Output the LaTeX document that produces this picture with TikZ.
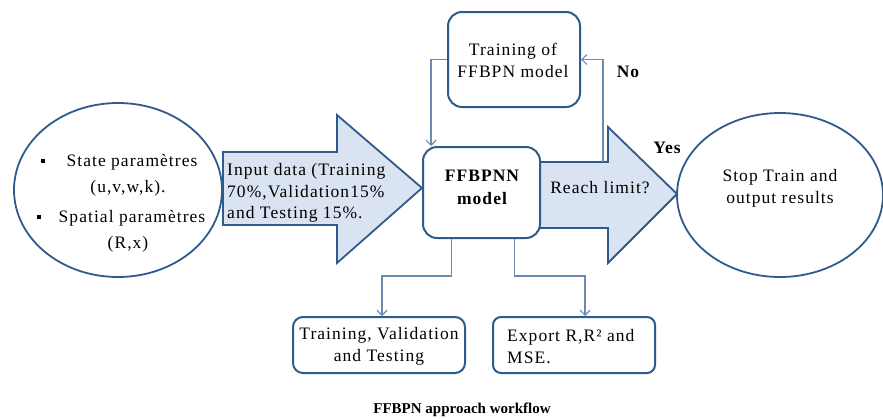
\documentclass[tikz,border=0pt]{standalone}
\usepackage{fontspec}
\setmainfont{Liberation Serif}[LetterSpace=6]
\usetikzlibrary{shapes.geometric,arrows.meta}
\definecolor{edge}{HTML}{2E5A8C}
\definecolor{pale}{HTML}{DAE3F1}
\definecolor{linkc}{HTML}{6A8AB4}

\begin{document}
\begin{tikzpicture}[x=1pt,y=-1pt,
  txt/.style={font=\fontsize{17.5}{21.5}\selectfont, inner sep=0pt, align=center},
  boldtxt/.style={font=\fontsize{17.5}{23}\selectfont\bfseries, inner sep=0pt, align=center},
  blockarrow/.style={draw=edge, fill=pale, line width=1.8pt, line join=miter},
  box/.style={draw=edge, line width=2pt, rounded corners=14pt, fill=white},
  oval/.style={ellipse, draw=edge, line width=1.8pt, inner sep=0pt},
  flow/.style={draw=linkc, line width=1.2pt, -{Straight Barb[length=5pt,width=10pt]}}]
\useasboundingbox (0,0) rectangle (883,418);

% input parameters
\node[oval, minimum width=208pt, minimum height=174pt] (src) at (118,190) {};
\node[fill=black, inner sep=0pt, minimum size=4.5pt] (b1) at (43,161) {};
\node[fill=black, inner sep=0pt, minimum size=4.5pt] (b2) at (39,217) {};
\node[txt] (s1) at (132,162) {State paramètres};
\node[txt] (s2) at (128,188) {(u,v,w,k).};
\node[txt] (s3) at (132,218) {Spatial paramètres};
\node[txt] (s4) at (128,244) {(R,x)};

% input data arrow
\draw[blockarrow] (223,152) -- (337,152) -- (337,115) -- (422,188)
  -- (337,263) -- (337,225) -- (223,225) -- cycle;
\node[txt, align=left, anchor=west] (inp) at (227,193)
  {Input data (Training\\70\%,Validation15\%\\and Testing 15\%.};

% decision arrow
\draw[blockarrow] (536,162) -- (608,162) -- (608,127) -- (677,194)
  -- (608,263) -- (608,228) -- (536,228) -- cycle;
\node[txt] (reach) at (600,188) {Reach limit?};

% model box
\node[box, minimum width=117pt, minimum height=91pt] (ffb) at (481.5,192.5) {};
\node[boldtxt] (ffbt) at (482,187) {FFBPNN\\model};

% training loop
\node[box, minimum width=132pt, minimum height=95pt] (train) at (514,59.5) {};
\node[txt] (traint) at (513,60.5) {Training of\\FFBPN model};
\coordinate (fb) at (603,162);
\draw[flow] (fb) |- (train.east);
\draw[flow] (train.west) -| ([xshift=9pt]ffb.north west);

% stop
\node[oval, minimum width=206pt, minimum height=164pt] (stop) at (780,195) {};
\node[txt] (stopt) at (780,188.5) {Stop Train and\\output results};

\node[boldtxt] (yes) at (667,148) {Yes};
\node[boldtxt] (no) at (628,72) {No};

% outputs
\node[box, minimum width=172pt, minimum height=56pt, rounded corners=10pt] (tvt) at (379,345) {};
\node[txt] (tvtt) at (379,346.5) {Training, Validation\\and Testing};
\node[box, minimum width=162pt, minimum height=56pt, rounded corners=8pt] (exp) at (574,345) {};
\node[txt, align=left, anchor=west] (expt) at (507,346.5) {Export R,R² and\\MSE.};

\draw[flow] ([xshift=-30pt]ffb.south) -- ++(0,37) -| ([xshift=3pt]tvt.north);
\draw[flow] ([xshift=33pt]ffb.south) -- ++(0,37) -| ([xshift=11pt]exp.north);

% caption
\node[font=\fontsize{15}{17}\selectfont\bfseries\addfontfeature{LetterSpace=0}, inner sep=0pt] (cap) at (462,410) {FFBPN approach workflow};
\end{tikzpicture}
\end{document}
